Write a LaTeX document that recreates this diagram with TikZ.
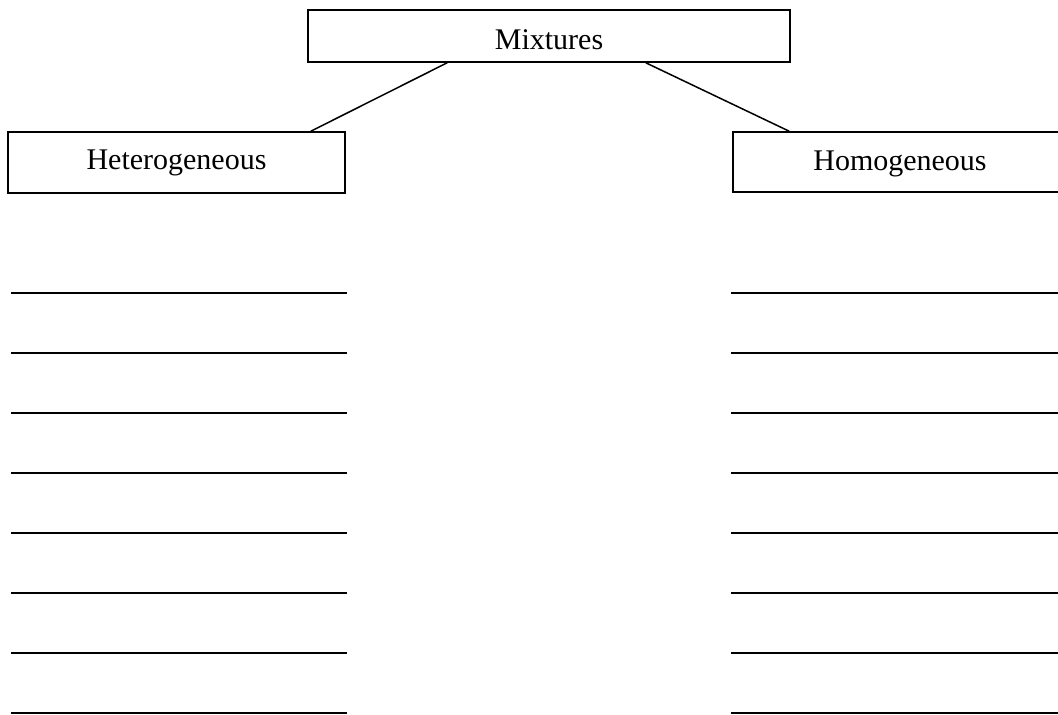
\documentclass[tikz,border=0pt]{standalone}
\usepackage{fontspec}
\setmainfont{Liberation Serif}
\begin{document}
\begin{tikzpicture}[x=1pt,y=-1pt,
  box/.style={draw=black,line width=1.5pt,rectangle,inner sep=0pt,
    font=\fontsize{30}{35}\selectfont},
  conn/.style={draw=black,line width=1.5pt},
  blank/.style={draw=black,line width=1.6pt}]
\useasboundingbox (0,0) rectangle (1058,715);
\node[box,minimum width=482pt,minimum height=52pt,text height=30pt,text depth=4pt] (mix) at (549,36) {Mixtures};
\node[box,minimum width=337pt,minimum height=61pt,text height=20pt,text depth=7pt] (het) at (176.5,162.5) {Heterogeneous};
\node[box,minimum width=334pt,minimum height=60pt,text height=22pt,text depth=5pt] (hom) at (900,162) {Homogeneous};
\draw[conn] ([xshift=140pt]mix.south west) -- ([xshift=-35pt]het.north east);
\draw[conn] ([xshift=-145pt]mix.south east) -- ([xshift=57pt]hom.north west);
\foreach \i in {0,...,7}{
  \draw[blank] (11,293+60*\i) -- (347,293+60*\i);
  \draw[blank] (731,293+60*\i) -- (1058,293+60*\i);
}
\end{tikzpicture}
\end{document}
